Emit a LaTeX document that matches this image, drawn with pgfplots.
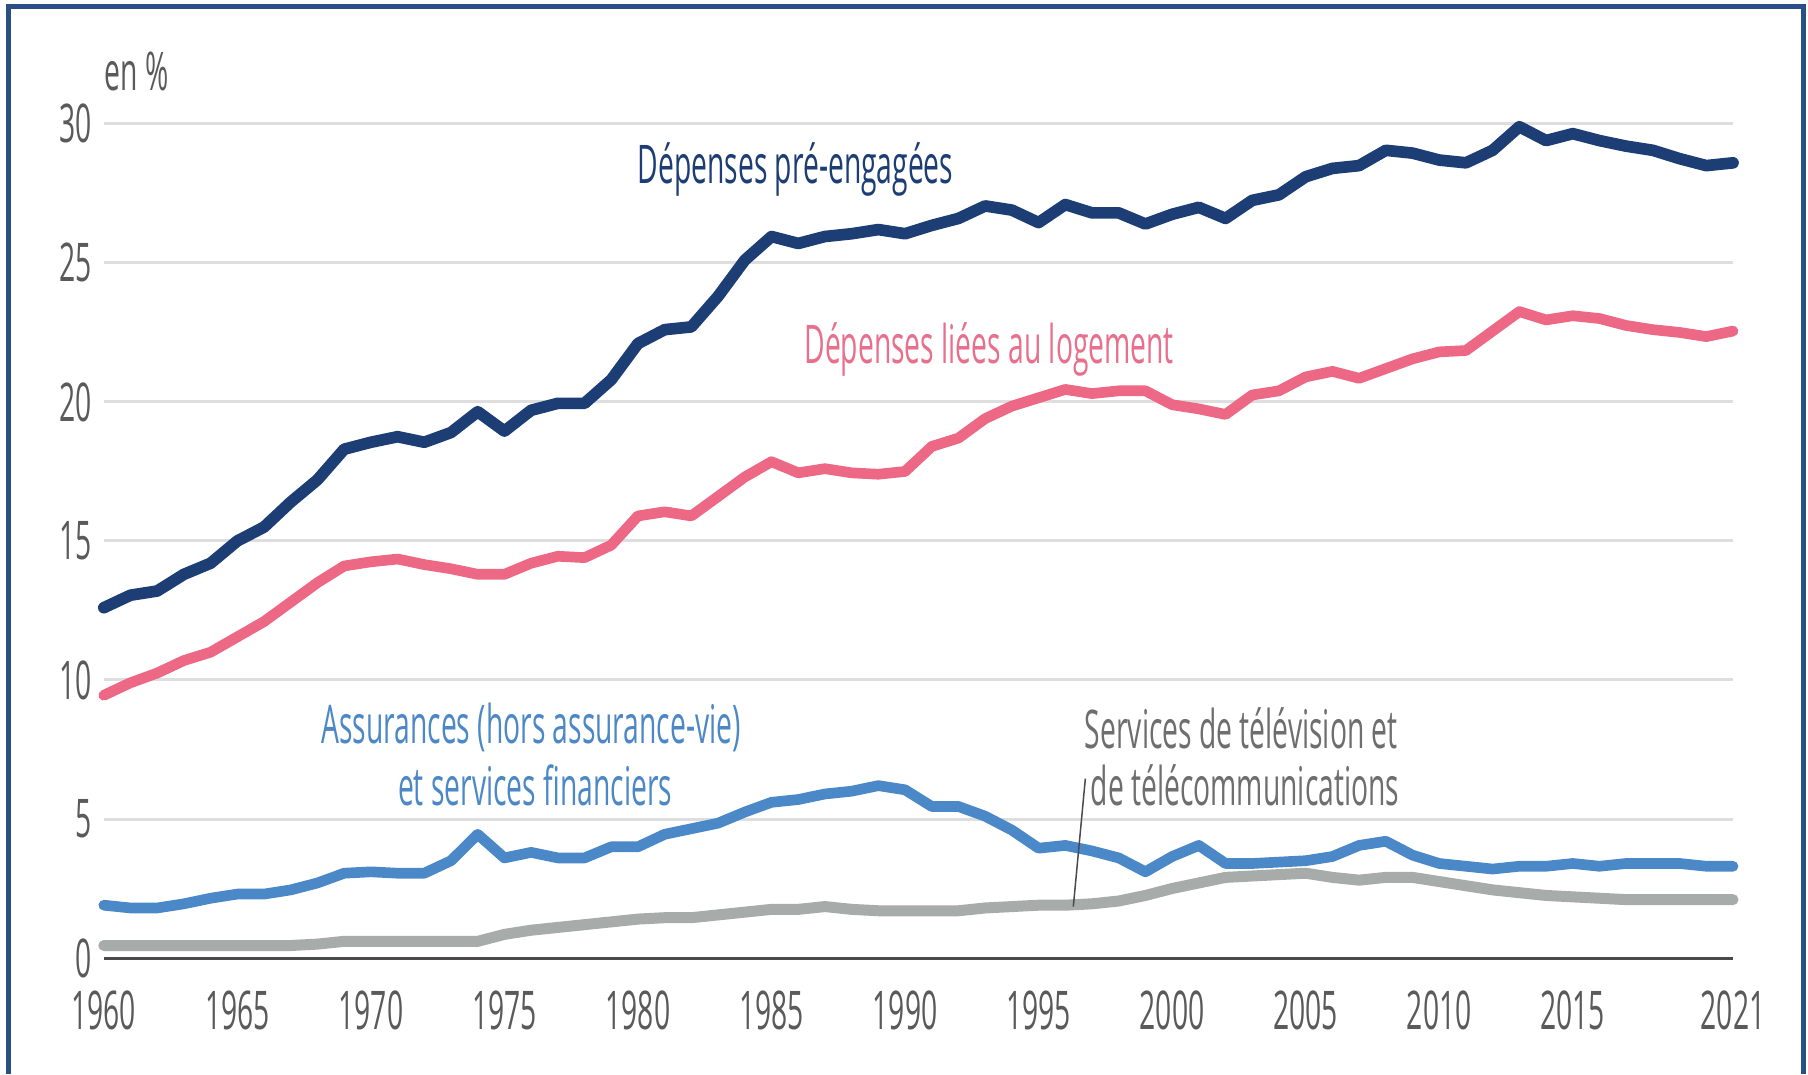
\documentclass[border=0pt]{standalone}
\usepackage{pgfplots}
\usepackage{pgfplotstable}
\pgfplotsset{compat=1.18}
\usepackage{fontspec}
\setmainfont{Open Sans}[FakeStretch=0.53]
\definecolor{navy}{HTML}{1D3E75}
\definecolor{pinkl}{HTML}{EC6884}
\definecolor{pinkt}{HTML}{E8708D}
\definecolor{lblue}{HTML}{4A88C8}
\definecolor{lbluet}{HTML}{4D88C6}
\definecolor{grayl}{HTML}{A7ABAA}
\definecolor{grayt}{HTML}{6E6E6E}
\definecolor{frame}{HTML}{2A4F87}
\definecolor{tickc}{HTML}{5A5A5A}
\definecolor{gridc}{HTML}{DEDEDE}
\definecolor{axisc}{HTML}{4A4A4A}

\pgfplotstableread{
year pre log ass tel
1960 12.6 9.45 1.9 0.45
1961 13.05 9.9 1.8 0.45
1962 13.2 10.25 1.8 0.45
1963 13.8 10.7 1.95 0.45
1964 14.2 11.0 2.15 0.45
1965 15.0 11.55 2.3 0.45
1966 15.5 12.1 2.3 0.45
1967 16.4 12.8 2.45 0.45
1968 17.2 13.5 2.7 0.5
1969 18.3 14.1 3.05 0.6
1970 18.55 14.25 3.1 0.6
1971 18.75 14.35 3.05 0.6
1972 18.55 14.15 3.05 0.6
1973 18.9 14.0 3.5 0.6
1974 19.65 13.8 4.45 0.6
1975 18.95 13.8 3.6 0.85
1976 19.7 14.2 3.8 1.0
1977 19.95 14.45 3.6 1.1
1978 19.95 14.4 3.6 1.2
1979 20.8 14.85 4.0 1.3
1980 22.1 15.9 4.0 1.4
1981 22.6 16.05 4.45 1.45
1982 22.7 15.9 4.65 1.45
1983 23.8 16.6 4.85 1.55
1984 25.1 17.3 5.25 1.65
1985 25.95 17.85 5.6 1.75
1986 25.7 17.45 5.7 1.75
1987 25.95 17.6 5.9 1.85
1988 26.05 17.45 6.0 1.75
1989 26.2 17.4 6.2 1.7
1990 26.05 17.5 6.05 1.7
1991 26.35 18.4 5.45 1.7
1992 26.6 18.7 5.45 1.7
1993 27.05 19.4 5.1 1.8
1994 26.9 19.85 4.6 1.85
1995 26.45 20.15 3.95 1.9
1996 27.1 20.45 4.05 1.9
1997 26.8 20.3 3.85 1.95
1998 26.8 20.4 3.6 2.05
1999 26.4 20.4 3.1 2.25
2000 26.75 19.9 3.65 2.5
2001 27.0 19.75 4.05 2.7
2002 26.6 19.55 3.4 2.9
2003 27.25 20.25 3.4 2.95
2004 27.45 20.4 3.45 3.0
2005 28.1 20.9 3.5 3.05
2006 28.4 21.1 3.65 2.9
2007 28.5 20.85 4.05 2.8
2008 29.05 21.2 4.2 2.9
2009 28.95 21.55 3.7 2.9
2010 28.7 21.8 3.4 2.75
2011 28.6 21.85 3.3 2.6
2012 29.05 22.55 3.2 2.45
2013 29.9 23.25 3.3 2.35
2014 29.4 22.95 3.3 2.25
2015 29.65 23.1 3.4 2.2
2016 29.4 23.0 3.3 2.15
2017 29.2 22.75 3.4 2.1
2018 29.05 22.6 3.4 2.1
2019 28.75 22.5 3.4 2.1
2020 28.5 22.35 3.3 2.1
2021 28.6 22.55 3.3 2.1
}\datatable

\begin{document}
\begin{tikzpicture}
\fill[white] (0,0) rectangle (542.4pt,322.2pt);
\useasboundingbox (0,0) rectangle (542.4pt,322.2pt);
\draw[frame, line width=1.5pt] (2.55pt,0) -- (2.55pt,320.25pt) -- (540.9pt,320.25pt) -- (540.9pt,0);
\begin{axis}[
  at={(31.14pt,34.8pt)}, anchor=south west,
  scale only axis, width=488.76pt, height=250.23pt,
  xmin=1960, xmax=2021, ymin=0, ymax=30,
  clip=false,
  axis line style={draw=none},
  major tick length=0pt,
  xtick={1960,1965,1970,1975,1980,1985,1990,1995,2000,2005,2010,2015,2021},
  ytick={0,5,10,15,20,25,30},
  ymajorgrids, grid style={gridc, line width=0.9pt},
  /pgf/number format/assume math mode=true,
  /pgf/number format/1000 sep={},
  tick label style={font=\fontsize{16}{19}\selectfont, text=tickc},
  yticklabel style={anchor=east, inner sep=0pt, xshift=-3.5pt},
  xticklabel style={anchor=north, inner sep=0pt, yshift=-9.6pt},
  every axis plot/.append style={line join=round, line cap=round, no markers},
]
\draw[axisc, line width=0.9pt] (axis cs:1960,0) -- (axis cs:2021,0);
\addplot[grayl, line width=3.3pt] table[x=year, y=tel] {\datatable};
\addplot[lblue, line width=3.2pt] table[x=year, y=ass] {\datatable};
\addplot[pinkl, line width=3.2pt] table[x=year, y=log] {\datatable};
\addplot[navy, line width=3.5pt] table[x=year, y=pre] {\datatable};
\draw[axisc, line width=0.45pt] (axis cs:1996.75,6.45) -- (axis cs:1996.3,1.85);
\node[anchor=base west, inner sep=0pt, text=tickc, font=\fontsize{16}{19}\selectfont] at (axis cs:1960,31.2) {en \%};
\node[anchor=base, inner sep=0pt, text=navy, font=\fontsize{16}{19}\selectfont] at (axis cs:1985.9,27.85) {Dépenses pré-engagées};
\node[anchor=base, inner sep=0pt, text=pinkt, font=\fontsize{16}{19}\selectfont] at (axis cs:1993.15,21.4) {Dépenses liées au logement};
\node[anchor=base, inner sep=0pt, text=lbluet, font=\fontsize{16}{19}\selectfont] at (axis cs:1976.0,7.7) {Assurances (hors assurance-vie)};
\node[anchor=base, inner sep=0pt, text=lbluet, font=\fontsize{16}{19}\selectfont] at (axis cs:1976.15,5.5) {et services financiers};
\node[anchor=base west, inner sep=0pt, text=grayt, font=\fontsize{16}{19}\selectfont] at (axis cs:1996.71,7.55) {Services de télévision et};
\node[anchor=base west, inner sep=0pt, text=grayt, font=\fontsize{16}{19}\selectfont] at (axis cs:1996.93,5.5) {de télécommunications};
\end{axis}
\end{tikzpicture}
\end{document}
